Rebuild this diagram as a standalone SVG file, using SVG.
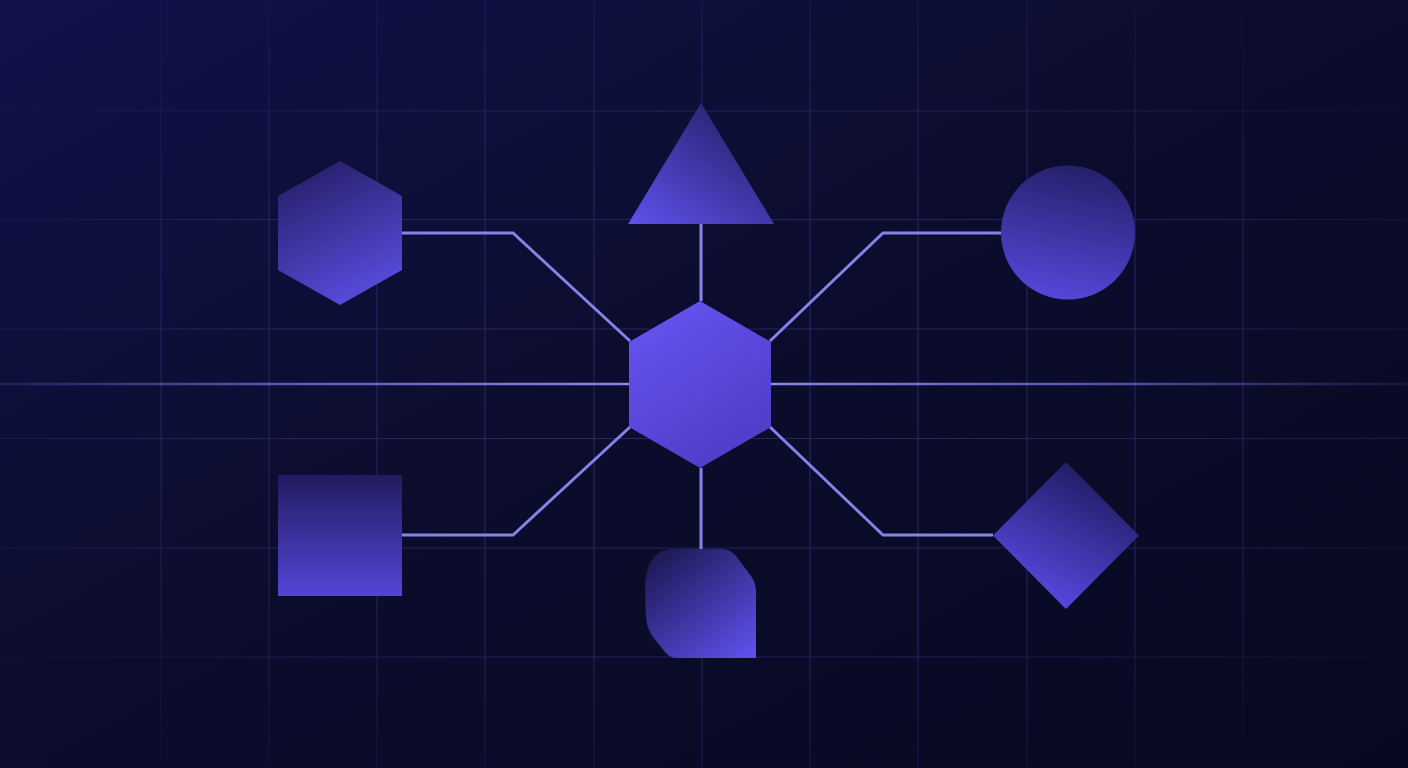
<svg xmlns="http://www.w3.org/2000/svg" width="1408" height="768" viewBox="0 0 1408 768">
  <defs>
    <linearGradient id="bg" x1="0" y1="0" x2="1" y2="1">
      <stop offset="0" stop-color="#10124a"/>
      <stop offset="0.45" stop-color="#0c0d2e"/>
      <stop offset="1" stop-color="#070920"/>
    </linearGradient>
    <radialGradient id="fadeG" cx="0.5" cy="0.5" r="0.62">
      <stop offset="0" stop-color="#fff" stop-opacity="1"/>
      <stop offset="0.6" stop-color="#fff" stop-opacity="0.85"/>
      <stop offset="1" stop-color="#fff" stop-opacity="0.1"/>
    </radialGradient>
    <mask id="gridMask">
      <rect width="1408" height="768" fill="url(#fadeG)"/>
    </mask>
    <linearGradient id="axisG" x1="0" y1="0" x2="1408" y2="0" gradientUnits="userSpaceOnUse">
      <stop offset="0" stop-color="#6a68d8" stop-opacity="0.2"/>
      <stop offset="0.2" stop-color="#7674dc" stop-opacity="0.75"/>
      <stop offset="0.45" stop-color="#8a88ee" stop-opacity="1"/>
      <stop offset="0.55" stop-color="#8a88ee" stop-opacity="1"/>
      <stop offset="0.8" stop-color="#6e6cd6" stop-opacity="0.7"/>
      <stop offset="1" stop-color="#5a58c0" stop-opacity="0.15"/>
    </linearGradient>
    <linearGradient id="gCenter" x1="0.2" y1="0" x2="0.8" y2="1">
      <stop offset="0" stop-color="#6554f0"/>
      <stop offset="1" stop-color="#4d3cc4"/>
    </linearGradient>
    <linearGradient id="gHex" x1="0.3" y1="0" x2="0.7" y2="1">
      <stop offset="0" stop-color="#26206a"/>
      <stop offset="1" stop-color="#5a4ee2"/>
    </linearGradient>
    <linearGradient id="gTri" x1="0.85" y1="0.1" x2="0.1" y2="1">
      <stop offset="0" stop-color="#26216a"/>
      <stop offset="1" stop-color="#5b4fe6"/>
    </linearGradient>
    <linearGradient id="gCirc" x1="0.6" y1="0" x2="0.4" y2="1">
      <stop offset="0" stop-color="#24206a"/>
      <stop offset="1" stop-color="#5548da"/>
    </linearGradient>
    <linearGradient id="gSq" x1="0.5" y1="0" x2="0.5" y2="1">
      <stop offset="0" stop-color="#201c60"/>
      <stop offset="1" stop-color="#5446d8"/>
    </linearGradient>
    <linearGradient id="gDia" x1="0.7" y1="0.1" x2="0.3" y2="0.9">
      <stop offset="0" stop-color="#221e66"/>
      <stop offset="1" stop-color="#5548de"/>
    </linearGradient>
    <linearGradient id="gBlob" x1="0.1" y1="0" x2="0.9" y2="1">
      <stop offset="0" stop-color="#1a1850"/>
      <stop offset="1" stop-color="#5d50ea"/>
    </linearGradient>
  </defs>
  <style>
    .grid line { stroke: #2e2e74; stroke-width: 1.2; opacity: 0.8; }
    .conn { fill: none; stroke: #8582e8; stroke-width: 3; stroke-linejoin: miter; }
  </style>

  <rect width="1408" height="768" fill="url(#bg)"/>

  <g class="grid" mask="url(#gridMask)">
    <line x1="161" y1="0" x2="161" y2="768"/>
    <line x1="269" y1="0" x2="269" y2="768"/>
    <line x1="377" y1="0" x2="377" y2="768"/>
    <line x1="485" y1="0" x2="485" y2="768"/>
    <line x1="594" y1="0" x2="594" y2="768"/>
    <line x1="702" y1="0" x2="702" y2="768"/>
    <line x1="810" y1="0" x2="810" y2="768"/>
    <line x1="918" y1="0" x2="918" y2="768"/>
    <line x1="1027" y1="0" x2="1027" y2="768"/>
    <line x1="1135" y1="0" x2="1135" y2="768"/>
    <line x1="1243" y1="0" x2="1243" y2="768"/>
    <line x1="0" y1="111" x2="1408" y2="111"/>
    <line x1="0" y1="219.5" x2="1408" y2="219.5"/>
    <line x1="0" y1="329" x2="1408" y2="329"/>
    <line x1="0" y1="438.5" x2="1408" y2="438.5"/>
    <line x1="0" y1="548" x2="1408" y2="548"/>
    <line x1="0" y1="657" x2="1408" y2="657"/>
  </g>

  <g id="connectors">
    <line x1="0" y1="384" x2="1408" y2="384" stroke="url(#axisG)" stroke-width="2.5"/>
    <polyline class="conn" points="402,233 513,233 630,341"/>
    <polyline class="conn" points="770,341 883,233 1001,233"/>
    <polyline class="conn" points="402,535 513,535 630,427"/>
    <polyline class="conn" points="770,427 883,535 993,535"/>
    <line class="conn" x1="701" y1="224" x2="701" y2="301"/>
    <line class="conn" x1="701" y1="468" x2="701" y2="549"/>
  </g>

  <g id="node-center">
    <polygon points="700,301 771,342 771,427 700,468 629,427 629,342" fill="url(#gCenter)"/>
  </g>
  <g id="node-hexagon">
    <polygon points="340,161 402,196 402,270 340,305 278,270 278,196" fill="url(#gHex)"/>
  </g>
  <g id="node-triangle">
    <polygon points="701,103 774,224 628,224" fill="url(#gTri)"/>
  </g>
  <g id="node-circle">
    <circle cx="1068" cy="232.5" r="67" fill="url(#gCirc)"/>
  </g>
  <g id="node-square">
    <rect x="278" y="475" width="124" height="121" fill="url(#gSq)"/>
  </g>
  <g id="node-diamond">
    <polygon points="1066,462 1139,535.5 1066,609 993,535.5" fill="url(#gDia)"/>
  </g>
  <g id="node-blob">
    <path d="M 670 549 L 722 549 Q 730 549 736 556 L 751 576 Q 756 583 756 592 L 756 658 L 677 658 Q 670 658 665 652 L 653 637 Q 647 629 646 618 L 645 590 Q 645 552 670 549 Z" fill="url(#gBlob)"/>
  </g>
</svg>
